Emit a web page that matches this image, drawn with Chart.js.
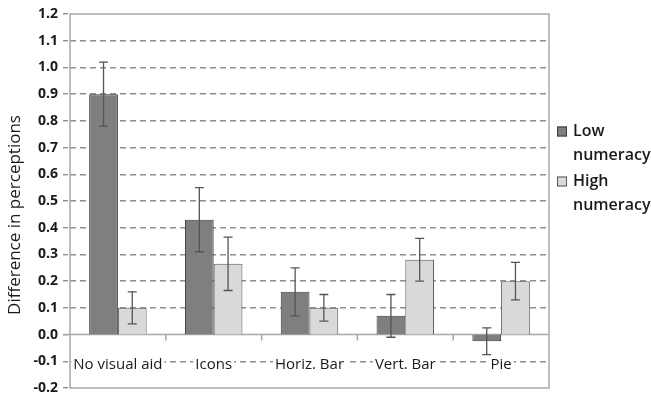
<!DOCTYPE html>
<html>
<head>
<meta charset="utf-8">
<script src="https://cdn.jsdelivr.net/npm/chart.js@4.4.1/dist/chart.umd.min.js"></script>
<style>
  html, body { margin: 0; padding: 0; background: #fff; }
  #wrap { width: 651px; height: 394px; position: relative; }
</style>
</head>
<body>
<div id="wrap"><canvas id="chart"></canvas></div>
<script>
  // values
  var categories = ['No visual aid', 'Icons', 'Horiz. Bar', 'Vert. Bar', 'Pie'];
  var lowValues = [0.90, 0.43, 0.16, 0.07, -0.025];
  var lowErrors = [0.12, 0.12, 0.09, 0.08, 0.05];
  var highValues = [0.10, 0.265, 0.10, 0.28, 0.20];
  var highErrors = [0.06, 0.10, 0.05, 0.08, 0.07];
  var seriesNames = [['Low', 'numeracy'], ['High', 'numeracy']];
  var yTitle = 'Difference in perceptions';

  var COLORS = {
    low: '#7f7f7f',
    lowBorder: '#3c3c3c',
    high: '#d9d9d9',
    highBorder: '#575757',
    grid: '#8e8e8e',
    frame: '#a8a8a8',
    error: '#555555',
    text: '#1a1a1a',
  };
  var FONT = '"Open Sans", "Liberation Sans", sans-serif';

  var errorsByDataset = [lowErrors, highErrors];

  // error bars, category labels, axis frame, legend and title drawn through the scales
  var extras = {
    id: 'extras',
    beforeDatasetsDraw: function (chart) {
      var ctx = chart.ctx, a = chart.chartArea;
      var x = chart.scales.x, y = chart.scales.y;
      var y0 = y.getPixelForValue(0);
      ctx.save();
      ctx.strokeStyle = COLORS.frame;
      ctx.lineWidth = 1.5;
      ctx.strokeRect(a.left, a.top, a.right - a.left, a.bottom - a.top);
      ctx.beginPath();
      ctx.moveTo(a.left - 7, y0);
      ctx.lineTo(a.right, y0);
      for (var i = 1; i < categories.length; i++) {
        var bx = (x.getPixelForValue(i - 1) + x.getPixelForValue(i)) / 2;
        ctx.moveTo(bx, y0);
        ctx.lineTo(bx, y0 + 6);
      }
      ctx.stroke();

      // category names sit inside the plot, on the -0.1 line, over a white patch
      ctx.font = '15px ' + FONT;
      ctx.textAlign = 'center';
      ctx.textBaseline = 'middle';
      var ly = y.getPixelForValue(-0.1) + 3;
      categories.forEach(function (c, i) {
        var cx = x.getPixelForValue(i), w = ctx.measureText(c).width;
        ctx.fillStyle = '#fff';
        ctx.fillRect(cx - w / 2 - 2, ly - 9, w + 4, 18);
        ctx.fillStyle = COLORS.text;
        ctx.fillText(c, cx, ly);
      });
      ctx.restore();
    },
    afterDatasetsDraw: function (chart) {
      var ctx = chart.ctx, y = chart.scales.y;
      ctx.save();
      ctx.strokeStyle = COLORS.error;
      ctx.lineWidth = 1.3;
      chart.data.datasets.forEach(function (ds, di) {
        var meta = chart.getDatasetMeta(di);
        meta.data.forEach(function (bar, i) {
          var v = ds.data[i], e = errorsByDataset[di][i];
          var top = y.getPixelForValue(v + e), bot = y.getPixelForValue(v - e);
          ctx.beginPath();
          ctx.moveTo(bar.x, top);
          ctx.lineTo(bar.x, bot);
          ctx.moveTo(bar.x - 4.5, top);
          ctx.lineTo(bar.x + 4.5, top);
          ctx.moveTo(bar.x - 4.5, bot);
          ctx.lineTo(bar.x + 4.5, bot);
          ctx.stroke();
        });
      });

      // y title
      var a = chart.chartArea;
      ctx.fillStyle = COLORS.text;
      ctx.textAlign = 'center';
      ctx.textBaseline = 'middle';
      ctx.save();
      ctx.translate(15, 215);
      ctx.rotate(-Math.PI / 2);
      ctx.font = '500 17px ' + FONT;
      ctx.fillText(yTitle, 0, 0);
      ctx.restore();

      // legend
      var lx = a.right + 8;
      var rows = [
        { y: 131, fill: COLORS.low, border: COLORS.lowBorder },
        { y: 181, fill: COLORS.high, border: COLORS.highBorder },
      ];
      ctx.font = '600 16px ' + FONT;
      ctx.textAlign = 'left';
      rows.forEach(function (r, k) {
        ctx.fillStyle = r.fill;
        ctx.fillRect(lx, r.y - 4.5, 10, 10);
        ctx.strokeStyle = r.border;
        ctx.lineWidth = 1;
        ctx.strokeRect(lx + 0.5, r.y - 4, 9, 9);
        ctx.fillStyle = COLORS.text;
        ctx.fillText(seriesNames[k][0], lx + 16, r.y);
        ctx.fillText(seriesNames[k][1], lx + 16, r.y + 24);
      });
      ctx.restore();
    },
  };

  new Chart(document.getElementById('chart'), {
    type: 'bar',
    data: {
      labels: categories,
      datasets: [
        {
          label: seriesNames[0].join(' '),
          data: lowValues,
          backgroundColor: COLORS.low,
          borderColor: COLORS.lowBorder,
          borderWidth: 1,
        },
        {
          label: seriesNames[1].join(' '),
          data: highValues,
          backgroundColor: COLORS.high,
          borderColor: COLORS.highBorder,
          borderWidth: 1,
        },
      ],
    },
    options: {
      responsive: true,
      maintainAspectRatio: false,
      animation: false,
      layout: { padding: { left: 0, top: 14, right: 102, bottom: 6 } },
      datasets: { bar: { categoryPercentage: 0.6, barPercentage: 1.0 } },
      plugins: { legend: { display: false }, tooltip: { enabled: false } },
      scales: {
        x: { display: false },
        y: {
          min: -0.2,
          max: 1.2,
          ticks: {
            stepSize: 0.1,
            padding: 5,
            color: COLORS.text,
            font: { family: FONT, size: 14, weight: '700' },
            callback: function (v) {
              return Math.abs(v) < 1e-9 ? '0.0' : Number(v).toFixed(1);
            },
          },
          grid: {
            color: function (c) {
              var v = c.tick ? c.tick.value : 0;
              return (Math.abs(v) < 1e-6 || v > 1.19 || v < -0.19) ? 'rgba(0,0,0,0)' : COLORS.grid;
            },
            lineWidth: 1.4,
            tickLength: 7,
            tickColor: COLORS.grid,
            tickBorderDash: [5, 4],
          },
          border: { display: false, dash: [6, 4] },
          afterFit: function (scale) {
            scale.width = 70;
            scale.paddingTop = 0;
            scale.paddingBottom = 0;
          },
        },
      },
    },
    plugins: [extras],
  });
</script>
</body>
</html>
